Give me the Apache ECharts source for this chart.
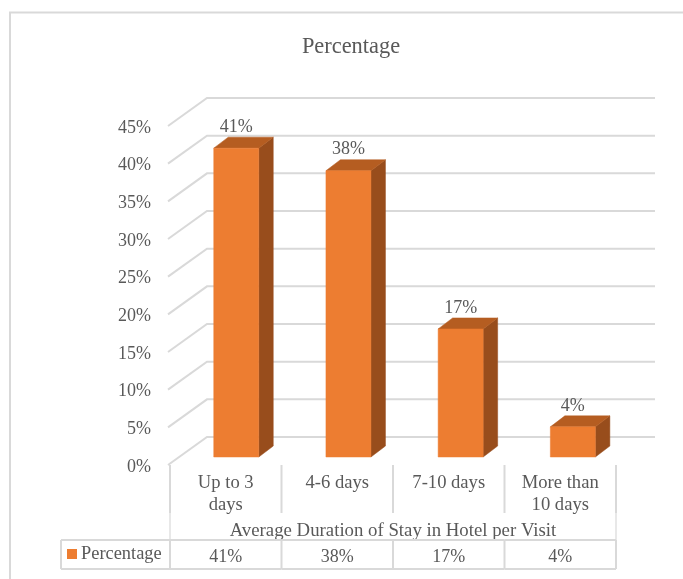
<!DOCTYPE html>
<html>
<head>
<meta charset="utf-8">
<style>html,body{margin:0;padding:0;background:#fff}#chart{width:683px;height:579px}</style>
<script src="https://cdn.jsdelivr.net/npm/echarts@6/dist/echarts.min.js"></script>
</head>
<body>
<div id="chart"></div>
<script>
// Chart content
const chartTitle = 'Percentage';
const axisTitle = 'Average Duration of Stay in Hotel per Visit';
const seriesName = 'Percentage';
const categories = ['Up to 3\ndays', '4-6 days', '7-10 days', 'More than\n10 days'];
const percentages = [41, 38, 17, 4];
const yTicks = [0, 5, 10, 15, 20, 25, 30, 35, 40, 45];

// Styling and pseudo-3D projection
const FONT = '"Liberation Serif", "Times New Roman", serif';
const TEXT = '#595959';
const LINE = '#d9d9d9';
const FRONT = '#ed7d31', TOP = '#b55d21', SIDE = '#984d1c';
const FLOOR_DX = 38, FLOOR_DY = 28;      // depth of the whole plot box
const BAR_DX = 14.5, BAR_DY = 11;        // depth of one column
const BAR_OFF_X = 10.5, BAR_OFF_Y = 8;   // column inset from the front plane
const BAR_STEP = 0.7;                    // columns sit on a slightly wider pitch than the table
const BAR_W = 45;

const line = (pts, width) => ({
  type: 'polyline',
  shape: { points: pts },
  style: { stroke: LINE, lineWidth: width || 2, fill: null }
});
const poly = (pts, fill) => ({
  type: 'polygon',
  shape: { points: pts },
  style: { fill: fill, stroke: fill, lineWidth: 0.5 }
});

// Walls: slanted side-wall segment plus back-wall gridline per tick
function renderGrid(params, api) {
  const band = api.size([1, 0])[0];
  const p = api.coord([0, api.value(1)]);
  const left = p[0] - band / 2;
  const right = api.coord([categories.length - 1, 0])[0] + band / 2;
  return {
    type: 'group',
    children: [line([
      [left - 2, p[1]],
      [left + FLOOR_DX - 1, p[1] - FLOOR_DY],
      [right + FLOOR_DX + 1, p[1] - FLOOR_DY]
    ])]
  };
}

// One column: front, top and side faces with its value label
function renderBar(params, api) {
  const x0 = api.coord([api.value(0), 0]);
  const x1 = api.coord([api.value(0), api.value(1)]);
  const cx = x0[0] + BAR_OFF_X + BAR_STEP * api.value(0);
  const l = cx - BAR_W / 2, r = cx + BAR_W / 2;
  const b = x0[1] - BAR_OFF_Y, t = x1[1] - BAR_OFF_Y;
  return {
    type: 'group',
    children: [
      poly([[r, t], [r + BAR_DX, t - BAR_DY], [r + BAR_DX, b - BAR_DY], [r, b]], SIDE),
      poly([[l, t], [l + BAR_DX, t - BAR_DY], [r + BAR_DX, t - BAR_DY], [r, t]], TOP),
      poly([[l, t], [r, t], [r, b], [l, b]], FRONT),
      {
        type: 'text',
        style: {
          x: cx, y: t - BAR_DY - 10,
          text: api.value(1) + '%',
          fill: TEXT, font: '18px ' + FONT,
          align: 'center', verticalAlign: 'middle'
        }
      }
    ]
  };
}

// Data table under the axis: cell rules and the value in each cell
function renderTable(params, api) {
  const idx = api.value(0);
  const p = api.coord([idx, 0]);
  const band = api.size([1, 0])[0];
  const left = p[0] - band / 2, right = p[0] + band / 2;
  const top = p[1] + 75, bottom = p[1] + 104, tickEnd = p[1] + 48;
  const children = [
    line([[right, p[1]], [right, tickEnd]], 2),
    line([[left, bottom], [right, bottom]], 2),
    line([[left, top], [right, top]], 2),
    line([[right, top], [right, bottom]], 2),
    {
      type: 'text',
      style: {
        x: p[0], y: (top + bottom) / 2 + 2.5,
        text: api.value(1) + '%',
        fill: TEXT, font: '18px ' + FONT,
        align: 'center', verticalAlign: 'middle'
      }
    }
  ];
  if (idx === 0) {
    children.push(
      line([[left, p[1]], [left, tickEnd]], 2),
      line([[left, tickEnd], [left, top]], 1.2),
      line([[left, top], [left, bottom]], 2),
      line([[61, top], [left, top]], 2),
      line([[61, bottom], [left, bottom]], 2),
      line([[61, top], [61, bottom]], 2)
    );
  }
  if (idx === categories.length - 1) {
    children.push(line([[right, tickEnd], [right, top]], 1.2));
  }
  return { type: 'group', children };
}

const chart = echarts.init(document.getElementById('chart'), null, { renderer: 'canvas' });
chart.setOption({
  animation: false,
  backgroundColor: '#ffffff',
  title: {
    text: chartTitle,
    left: 346, top: 31, textAlign: 'center',
    textStyle: { color: TEXT, fontFamily: FONT, fontSize: 22.4, fontWeight: 'normal' }
  },
  legend: {
    data: [seriesName],
    left: 63, top: 545,
    icon: 'rect', itemWidth: 10, itemHeight: 10, itemGap: 0,
    padding: [0, 0, 0, 4],
    selectedMode: false,
    textStyle: { color: TEXT, fontFamily: FONT, fontSize: 18.4, padding: [5, 0, 0, -1] }
  },
  grid: { left: 170, right: 67, top: 126, bottom: 114, containLabel: false },
  xAxis: {
    type: 'category',
    data: categories,
    axisLine: { show: false },
    axisTick: { show: false },
    splitLine: { show: false },
    axisLabel: {
      color: TEXT, fontFamily: FONT, fontSize: 18.6, lineHeight: 22,
      margin: 7, interval: 0, verticalAlign: 'top'
    },
    name: axisTitle,
    nameLocation: 'middle',
    nameGap: 57,
    nameTextStyle: { color: TEXT, fontFamily: FONT, fontSize: 18.8 }
  },
  yAxis: {
    type: 'value',
    min: 0, max: 45, interval: 5,
    axisLine: { show: false },
    axisTick: { show: false },
    splitLine: { show: false },
    axisLabel: {
      formatter: '{pct|{value}%}',
      margin: 19,
      rich: {
        pct: { color: TEXT, fontFamily: FONT, fontSize: 18, padding: [4, 0, 0, 0] }
      }
    }
  },
  series: [
    {
      name: 'Walls', type: 'custom', silent: true, z: 1,
      renderItem: renderGrid,
      encode: { x: 0, y: 1 },
      data: yTicks.map(v => [0, v])
    },
    {
      name: 'Table', type: 'custom', silent: true, z: 1,
      renderItem: renderTable,
      encode: { x: 0, y: 1 },
      data: percentages.map((v, i) => [i, v])
    },
    {
      name: seriesName, type: 'custom', z: 2,
      itemStyle: { color: FRONT },
      renderItem: renderBar,
      encode: { x: 0, y: 1 },
      data: percentages.map((v, i) => [i, v])
    }
  ],
  graphic: [{
    type: 'polyline', silent: true, z: 0,
    shape: { points: [[10, 579], [10, 12.5], [683, 12.5]] },
    style: { stroke: LINE, lineWidth: 2, fill: null }
  }]
});
</script>
</body>
</html>
